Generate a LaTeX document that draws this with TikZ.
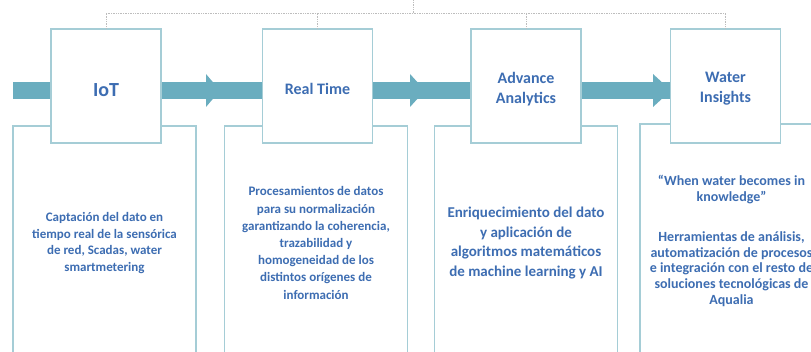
\documentclass[tikz,border=0pt]{standalone}
\usepackage{fontspec}
\setmainfont{Carlito}
\usetikzlibrary{positioning}
\definecolor{bandblue}{HTML}{6AADBF}
\definecolor{boxline}{HTML}{A5CDD6}
\definecolor{textblue}{HTML}{3D6DB2}
\definecolor{dotgray}{HTML}{BDBDBD}

\begin{document}
\begin{tikzpicture}[x=1pt,y=-1pt]
	\path [use as bounding box] (0,0) rectangle (811,352);
	\tikzstyle{topbox} = [draw=boxline, line width=1.3pt, fill=white, minimum width=110pt, minimum height=114pt, inner sep=0pt]
	\tikzstyle{lowbox} = [draw=boxline, line width=1.3pt, fill=white, minimum width=183pt, minimum height=234pt, inner sep=0pt, align=center, text=textblue, font=\bfseries\fontsize{13}{16.4}\selectfont]
	\tikzstyle{title} = [text=textblue, align=center, font=\bfseries\fontsize{16}{20}\selectfont]
	\tikzstyle{dotline} = [dotgray, densely dotted, line width=0.7pt]
	\tikzstyle{band} = [bandblue, line width=17pt]
	\coordinate (hub) at (413,13);
	\coordinate (hubtop) at (413,-2);
	\coordinate (bandstart) at (13,90.5);
	\node[lowbox] (iotlow) at (104.5,243) {Captación del dato en\\tiempo real de la sensórica\\de red, Scadas, water\\smartmetering};
	\node[lowbox, font=\bfseries\fontsize{13}{17.2}\selectfont] (rtlow) at (316,243) {Procesamientos de datos\\para su normalización\\garantizando la coherencia,\\trazabilidad y\\homogeneidad de los\\distintos orígenes de\\información};
	\node[lowbox, font=\bfseries\fontsize{15}{19.4}\selectfont] (advlow) at (526,243) {Enriquecimiento del dato\\y aplicación de\\algoritmos matemáticos\\de machine learning y AI};
	\node[lowbox, font=\bfseries\fontsize{14}{15.8}\selectfont] (waterlow) at (731.5,241) {“When water becomes in\\knowledge”\\[24pt]Herramientas de análisis,\\automatización de procesos\\e integración con el resto de\\soluciones tecnológicas de\\Aqualia};
	\draw[band] (bandstart) -- (671,90.5);
	\foreach \b/\t in {206/220, 410/425, 653/671}
		\fill[bandblue] (\b,74) -- (\t,90.5) -- (\b,107) -- cycle;
	\node[topbox] (iotbox) at (106,86) {};
	\node[topbox] (rtbox) at (317.5,86) {};
	\node[topbox] (advbox) at (526,86) {};
	\node[topbox] (waterbox) at (725.5,86) {};
	\draw[dotline] (iotbox.north) |- (hub) -| (waterbox.north);
	\draw[dotline] (rtbox.north) -- (rtbox.north |- hub);
	\draw[dotline] (advbox.north) -- (advbox.north |- hub);
	\draw[dotline] (hub) -- (hubtop);
	\node[title, font=\bfseries\fontsize{20}{24}\selectfont] (iottitle) at (106,90) {IoT};
	\node[title] (rttitle) at (317.5,89) {Real Time};
	\node[title] (advtitle) at (526,89) {Advance\\Analytics};
	\node[title] (watertitle) at (725.5,89) {Water\\Insights};
\end{tikzpicture}
\end{document}
